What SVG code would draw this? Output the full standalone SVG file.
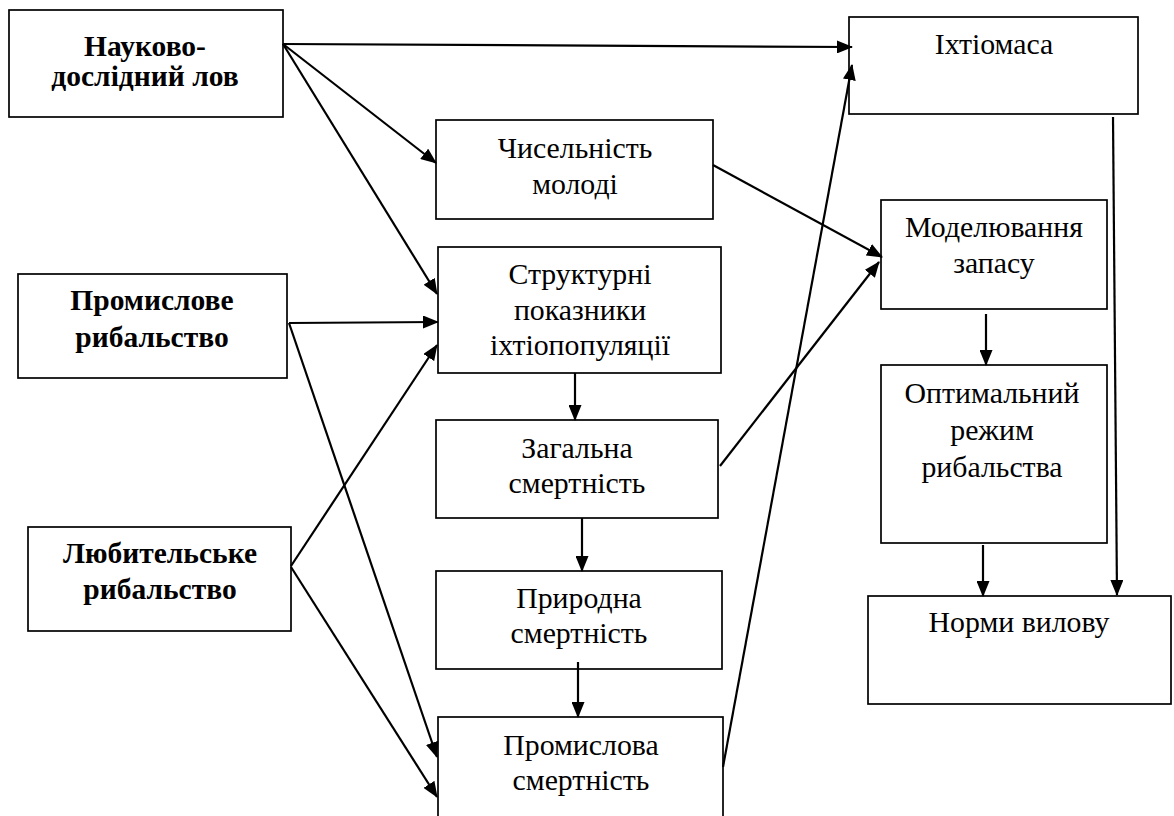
<svg xmlns="http://www.w3.org/2000/svg" width="1174" height="816" viewBox="0 0 1174 816">
<style>
.box{fill:#fff;stroke:#000;stroke-width:1.7}
.t{font-family:"Liberation Serif","Times New Roman",serif;font-size:29.8px;fill:#000;text-anchor:middle}
.b{font-weight:bold;font-size:29.5px}
.c{stroke:#000;stroke-width:2.2;fill:none}
</style>
<defs>
<marker id="ah" viewBox="0 0 16 13" refX="15" refY="6.5" markerWidth="16" markerHeight="13" markerUnits="userSpaceOnUse" orient="auto">
<path d="M0,0 L16,6.5 L0,13 Z" fill="#000"/>
</marker>
</defs>
<rect width="1174" height="816" fill="#fff"/>
<g id="n-naukovo"><rect class="box" x="9" y="10" width="274" height="107"/><text class="t b" x="145" y="56">Науково-</text><text class="t b" x="145" y="86">дослідний лов</text></g>
<g id="n-promyslove"><rect class="box" x="18" y="274" width="269" height="104"/><text class="t b" x="152" y="310">Промислове</text><text class="t b" x="152" y="347">рибальство</text></g>
<g id="n-lyubytelske"><rect class="box" x="28" y="527" width="263" height="104"/><text class="t b" x="160" y="563">Любительське</text><text class="t b" x="160" y="599">рибальство</text></g>
<g id="n-chyselnist"><rect class="box" x="436" y="120" width="277" height="99"/><text class="t" x="575" y="158">Чисельність</text><text class="t" x="575" y="194">молоді</text></g>
<g id="n-strukturni"><rect class="box" x="438" y="247" width="283" height="126"/><text class="t" x="580" y="284">Структурні</text><text class="t" x="580" y="320">показники</text><text class="t" x="580" y="355">іхтіопопуляції</text></g>
<g id="n-zagalna"><rect class="box" x="436" y="420" width="282" height="98"/><text class="t" x="577" y="458">Загальна</text><text class="t" x="577" y="493">смертність</text></g>
<g id="n-pryrodna"><rect class="box" x="436" y="571" width="286" height="98"/><text class="t" x="579" y="608">Природна</text><text class="t" x="579" y="643">смертність</text></g>
<g id="n-promyslova"><rect class="box" x="438" y="717" width="285" height="110"/><text class="t" x="581" y="755">Промислова</text><text class="t" x="581" y="790">смертність</text></g>
<g id="n-ikhtiomasa"><rect class="box" x="849" y="17" width="289" height="97"/><text class="t" x="994" y="54">Іхтіомаса</text></g>
<g id="n-modelyuvannya"><rect class="box" x="881" y="200" width="226" height="109"/><text class="t" x="994" y="237">Моделювання</text><text class="t" x="994" y="273">запасу</text></g>
<g id="n-optymalnyi"><rect class="box" x="881" y="365" width="226" height="178"/><text class="t" x="992" y="403">Оптимальний</text><text class="t" x="992" y="440">режим</text><text class="t" x="992" y="477">рибальства</text></g>
<g id="n-normy"><rect class="box" x="868" y="596" width="303" height="108"/><text class="t" x="1019" y="632">Норми вилову</text></g>
<g id="connectors">
<line class="c" x1="283" y1="44" x2="852" y2="47" marker-end="url(#ah)"/>
<line class="c" x1="283" y1="44" x2="436" y2="163" marker-end="url(#ah)"/>
<line class="c" x1="283" y1="44" x2="437" y2="294" marker-end="url(#ah)"/>
<line class="c" x1="289" y1="323" x2="438" y2="322" marker-end="url(#ah)"/>
<line class="c" x1="289" y1="323" x2="437" y2="757" marker-end="url(#ah)"/>
<line class="c" x1="291" y1="566" x2="437" y2="345" marker-end="url(#ah)"/>
<line class="c" x1="291" y1="567" x2="437" y2="797" marker-end="url(#ah)"/>
<line class="c" x1="713" y1="165" x2="882" y2="257" marker-end="url(#ah)"/>
<line class="c" x1="720" y1="466" x2="879" y2="262" marker-end="url(#ah)"/>
<line class="c" x1="723" y1="767" x2="852" y2="65" marker-end="url(#ah)"/>
<line class="c" x1="575" y1="373" x2="575" y2="420" marker-end="url(#ah)"/>
<line class="c" x1="582" y1="518" x2="582" y2="571" marker-end="url(#ah)"/>
<line class="c" x1="578" y1="662" x2="578" y2="717" marker-end="url(#ah)"/>
<line class="c" x1="986" y1="314" x2="986" y2="365" marker-end="url(#ah)"/>
<line class="c" x1="983" y1="545" x2="983" y2="596" marker-end="url(#ah)"/>
<line class="c" x1="1113" y1="117" x2="1117" y2="595" marker-end="url(#ah)"/>
</g>
</svg>
